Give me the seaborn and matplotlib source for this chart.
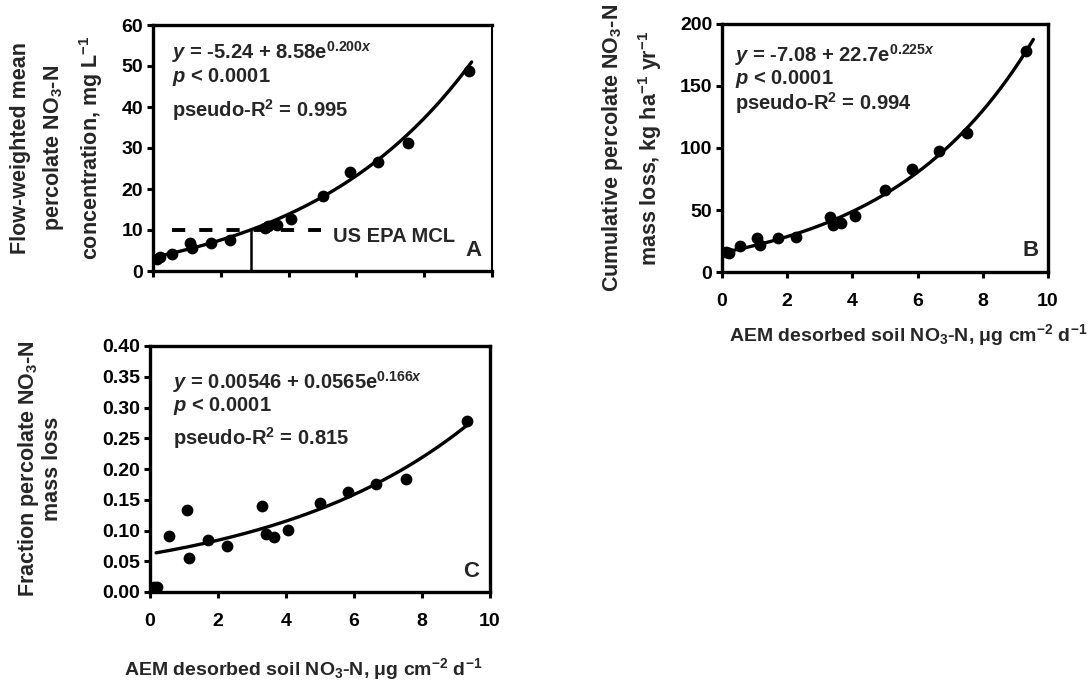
import matplotlib
matplotlib.use("Agg")
import matplotlib.pyplot as plt
import seaborn as sns
import numpy as np

# AEM desorbed soil NO3-N (x, shared by all panels)
aem_x = [0.12, 0.22, 0.55, 1.08, 1.16, 1.72, 2.26, 3.30, 3.40, 3.66, 4.07, 5.00, 5.82, 6.65, 7.52, 9.33]

# Panel A: flow-weighted mean percolate NO3-N concentration, mg/L
conc_a = [3.0, 3.5, 4.2, 6.8, 5.7, 6.9, 7.6, 10.4, 11.0, 11.3, 12.8, 18.3, 24.2, 26.5, 31.3, 48.8]
# Panel B: cumulative percolate NO3-N mass loss, kg/ha/yr
mass_b = [16.0, 15.5, 21.0, 27.5, 22.0, 27.7, 28.5, 44.0, 38.0, 39.2, 45.0, 66.0, 83.0, 97.6, 112.0, 178.0]
# Panel C: fraction percolate NO3-N mass loss
frac_c = [0.008, 0.008, 0.091, 0.133, 0.055, 0.085, 0.075, 0.140, 0.095, 0.089, 0.101, 0.144, 0.163, 0.176, 0.183, 0.278]

# fitted models y = a + b*exp(c*x)
fit_a = (-5.24, 8.58, 0.200)
fit_b = (-7.08, 22.7, 0.225)
fit_c = (0.00546, 0.0565, 0.166)
fit_range_a = (0.0, 9.40)
fit_range_b = (0.0, 9.55)
fit_range_c = (0.18, 9.45)

mcl = 10
mcl_x = 2.9

sns.set_theme(style="ticks")
plt.rcParams['font.family'] = ['Liberation Sans', 'DejaVu Sans']
plt.rcParams['font.weight'] = 'bold'
plt.rcParams['axes.labelweight'] = 'bold'
plt.rcParams['mathtext.fontset'] = 'custom'
plt.rcParams['mathtext.rm'] = 'Liberation Sans:bold'
plt.rcParams['mathtext.it'] = 'Liberation Sans:bold:italic'
plt.rcParams['mathtext.bf'] = 'Liberation Sans:bold'

fig = plt.figure(figsize=(10.91, 6.85), dpi=100)
ax_a = fig.add_axes([153 / 1091, 1 - 271 / 685, 339 / 1091, 246 / 685])
ax_b = fig.add_axes([722 / 1091, 1 - 272 / 685, 326 / 1091, 248 / 685])
ax_c = fig.add_axes([150 / 1091, 1 - 592 / 685, 340 / 1091, 246 / 685])

xlab = "AEM desorbed soil NO$_3$-N, μg cm$^{-2}$ d$^{-1}$"


def panel(ax, y, fit, frange, ylim, yticks, ylabel, lsp, lpad, letter, txt_pos, r2, fmt):
    a, b, c = fit
    xf = np.linspace(frange[0], frange[1], 200)
    yf = a + b * np.exp(c * xf)
    sns.lineplot(x=xf, y=yf, ax=ax, color='black', linewidth=2.4, zorder=2)
    sns.scatterplot(x=aem_x, y=y, ax=ax, color='black', s=72, linewidth=0, zorder=3)
    ax.set_xlim(0, 10)
    ax.set_ylim(*ylim)
    ax.set_xticks([0, 2, 4, 6, 8, 10])
    ax.set_yticks(yticks)
    ax.set_yticklabels([fmt.format(t) for t in yticks])
    ax.tick_params(direction='out', length=4, width=2.2, labelsize=14, colors='black')
    ax.tick_params(axis='x', pad=11)
    ax.tick_params(axis='y', pad=3)
    for s in ax.spines.values():
        s.set_linewidth(2.4)
        s.set_color('black')
    ax.set_ylabel(ylabel, fontsize=15.5, linespacing=lsp, labelpad=lpad)
    x0, y1, y2, y3 = txt_pos
    eq = f"$y$ = {a:g} + {b:g}e$^{{{c:.3f}x}}$"
    ax.text(x0, y1, eq, transform=ax.transAxes, fontsize=14.5, va='center')
    ax.text(x0, y2, "$p$ < 0.0001", transform=ax.transAxes, fontsize=14.5, va='center')
    ax.text(x0, y3, "pseudo-R$^2$ = " + r2, transform=ax.transAxes, fontsize=14.5, va='center')
    ax.text(0.945, 0.085, letter, transform=ax.transAxes, fontsize=16, ha='center', va='center')


panel(ax_a, conc_a, fit_a, fit_range_a, (0, 60), [0, 10, 20, 30, 40, 50, 60],
      "Flow-weighted mean\npercolate NO$_3$-N\nconcentration, mg L$^{-1}$", 1.55, 12,
      "A", (0.056, 0.89, 0.79, 0.655), "0.995", "{:g}")
panel(ax_b, mass_b, fit_b, fit_range_b, (0, 200), [0, 50, 100, 150, 200],
      "Cumulative percolate NO$_3$-N\nmass loss, kg ha$^{-1}$ yr$^{-1}$", 1.55, 11,
      "B", (0.04, 0.875, 0.78, 0.68), "0.994", "{:g}")
panel(ax_c, frac_c, fit_c, fit_range_c, (0, 0.40), [0, 0.05, 0.10, 0.15, 0.20, 0.25, 0.30, 0.35, 0.40],
      "Fraction percolate NO$_3$-N\nmass loss", 1.1, 28,
      "C", (0.068, 0.855, 0.755, 0.625), "0.815", "{:.2f}")

# panel A: no x tick labels, thinner right spine, MCL reference
ax_a.tick_params(axis='x', labelbottom=False)
ax_a.spines['right'].set_linewidth(1.5)
ax_a.plot([0.55, 4.95], [mcl, mcl], color='black', linewidth=2.8, linestyle=(0, (3.4, 3.6)))
ax_a.plot([mcl_x, mcl_x], [0, mcl], color='black', linewidth=1.8)
ax_a.text(5.3, 8.4, "US EPA MCL", fontsize=14.5, va='center')

ax_b.set_xlabel(xlab, fontsize=14)
ax_b.xaxis.set_label_coords(0.57, -0.2)
ax_c.set_xlabel(xlab, fontsize=14)
ax_c.xaxis.set_label_coords(0.45, -0.26)

fig.savefig("out.png", dpi=100, facecolor='white')
plt.close(fig)
